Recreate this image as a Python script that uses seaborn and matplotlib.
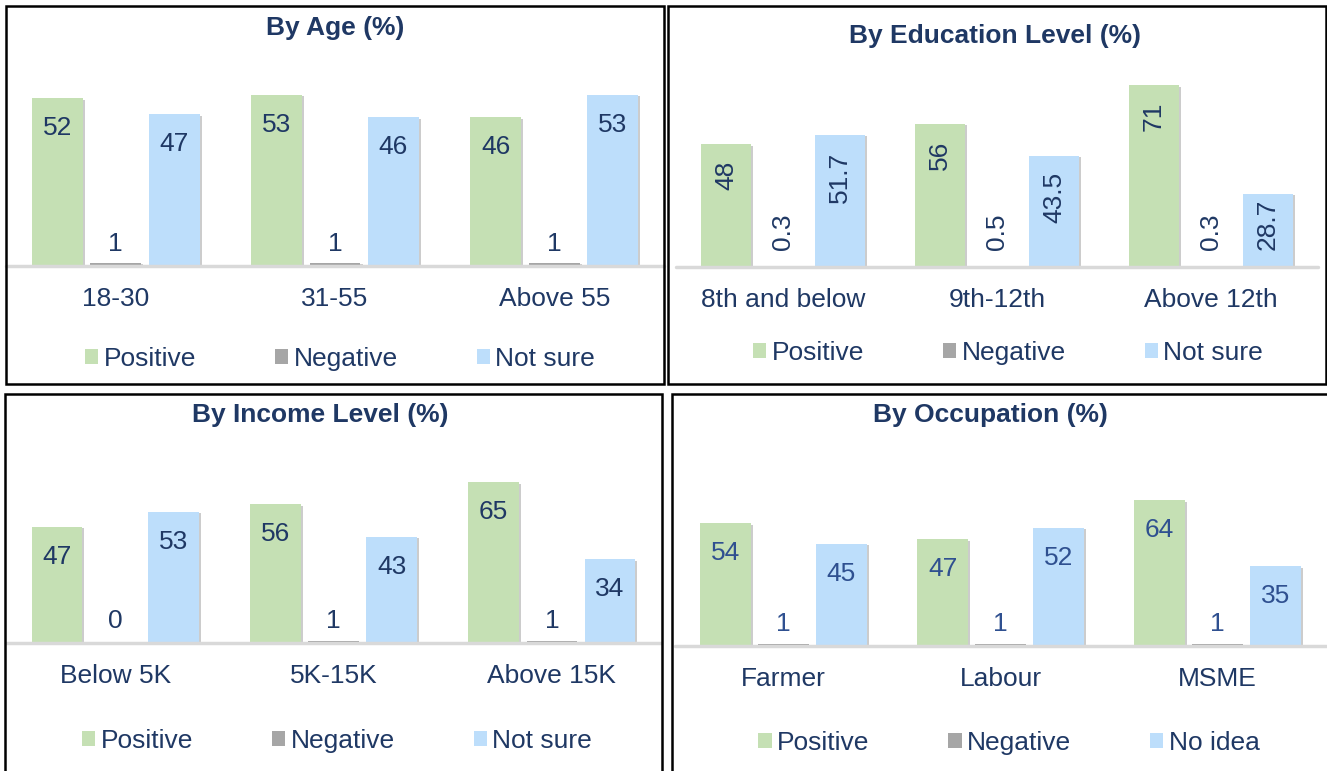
import matplotlib
matplotlib.use("Agg")
import matplotlib.pyplot as plt
from matplotlib.patches import Patch, Rectangle
from matplotlib import patheffects
import pandas as pd
import seaborn as sns

# Data
SERIES = ["Positive", "Negative", "Not sure"]
OCC_SERIES = ["Positive", "Negative", "No idea"]

AGE_GROUPS = ["18-30", "31-55", "Above 55"]
AGE_POSITIVE = [52, 53, 46]
AGE_NEGATIVE = [1, 1, 1]
AGE_NOT_SURE = [47, 46, 53]

EDU_GROUPS = ["8th and below", "9th-12th", "Above 12th"]
EDU_POSITIVE = [48, 56, 71]
EDU_NEGATIVE = [0.3, 0.5, 0.3]
EDU_NOT_SURE = [51.7, 43.5, 28.7]

INC_GROUPS = ["Below 5K", "5K-15K", "Above 15K"]
INC_POSITIVE = [47, 56, 65]
INC_NEGATIVE = [0, 1, 1]
INC_NOT_SURE = [53, 43, 34]

OCC_GROUPS = ["Farmer", "Labour", "MSME"]
OCC_POSITIVE = [54, 47, 64]
OCC_NEGATIVE = [1, 1, 1]
OCC_NO_IDEA = [45, 52, 35]

# Styling
W, H = 1327, 771
NAVY = "#1F3864"
COLORS = ["#C5E0B4", "#A6A6A6", "#BDDEFB"]
FONT_SIZE = 19

sns.set_theme(style="white")
plt.rcParams["font.family"] = ["Liberation Sans", "DejaVu Sans"]


def fig_xy(x, y):
    """Pixel position (from top-left) to figure fraction."""
    return x / W, 1 - y / H


def draw_panel(fig, title, groups, names, values, layout, rotate=False, value_color=NAVY):
    x0, x1, base, top, scale = layout["axes"]
    ax = fig.add_axes([x0 / W, 1 - base / H, (x1 - x0) / W, (base - top) / H])

    rows = [(g, n, v) for n, vals in zip(names, values) for g, v in zip(groups, vals)]
    df = pd.DataFrame(rows, columns=["group", "series", "value"])
    sns.barplot(data=df, x="group", y="value", hue="series", order=groups,
                hue_order=names, palette=dict(zip(names, COLORS)), saturation=1,
                width=0.8, gap=0.13, legend=False, ax=ax, linewidth=0)

    shadow = [patheffects.SimplePatchShadow(offset=(1.5, -1.2), shadow_rgbFace="#808080", alpha=0.4),
              patheffects.Normal()]
    for patch in ax.patches:
        patch.set_path_effects(shadow)

    ax.set_xlim(-0.5, 2.5)
    ax.set_ylim(0, (base - top) / scale)
    ax.axhline(0, color="#D9D9D9", lw=2.5, zorder=5, clip_on=False)
    sns.despine(ax=ax, left=True, bottom=True)
    ax.set_yticks([])
    ax.set_xlabel("")
    ax.set_ylabel("")
    ax.tick_params(axis="x", length=0, pad=15, labelsize=FONT_SIZE, labelcolor=NAVY)
    ax.patch.set_alpha(0)

    # value labels: inside the bar end, pushed up off the baseline when too short
    renderer = fig.canvas.get_renderer()
    base_disp = ax.transData.transform((0, 0))[1]
    pad = 12 if rotate else 13
    floor = 12 if rotate else 7
    for container in ax.containers:
        for bar in container:
            h = bar.get_height()
            xc = bar.get_x() + bar.get_width() / 2
            txt = ax.annotate(f"{h:g}", (xc, h), xytext=(0, -pad), textcoords="offset points",
                              ha="center", va="top", rotation=90 if rotate else 0,
                              fontsize=FONT_SIZE, color=value_color, zorder=6)
            bb = txt.get_window_extent(renderer)
            if bb.y0 < base_disp + floor * fig.dpi / 72:
                txt.xy = (xc, 0)
                txt.set_position((0, floor))
                txt.set_va("bottom")

    fig.text(*fig_xy(*layout["title"]), title, ha="center", va="center",
             fontsize=FONT_SIZE, fontweight="bold", color=NAVY)

    handles = [Patch(facecolor=c, edgecolor="none", label=n) for c, n in zip(COLORS, names)]
    fig.legend(handles=handles, loc="center", bbox_to_anchor=fig_xy(*layout["legend"]),
               ncol=3, frameon=False, fontsize=FONT_SIZE, labelcolor=NAVY,
               handlelength=0.5, handleheight=0.5, handletextpad=0.2, columnspacing=3.0)

    bx0, by0, bx1, by1 = layout["box"]
    fig.add_artist(Rectangle(fig_xy(bx0, by1), (bx1 - bx0) / W, (by1 - by0) / H,
                             transform=fig.transFigure, fill=False, ec="black", lw=1.8))
    return ax


fig = plt.figure(figsize=(W / 100, H / 100), dpi=100)

draw_panel(fig, "By Age (%)", AGE_GROUPS, SERIES,
           [AGE_POSITIVE, AGE_NEGATIVE, AGE_NOT_SURE],
           {"axes": (6, 664, 266, 60, 3.23), "title": (335, 28),
            "legend": (340, 359), "box": (6, 6, 664, 384)})
draw_panel(fig, "By Education Level (%)", EDU_GROUPS, SERIES,
           [EDU_POSITIVE, EDU_NEGATIVE, EDU_NOT_SURE],
           {"axes": (676, 1318, 267, 60, 2.56), "title": (995, 36),
            "legend": (1008, 353), "box": (668, 6, 1326, 384)}, rotate=True)
draw_panel(fig, "By Income Level (%)", INC_GROUPS, SERIES,
           [INC_POSITIVE, INC_NEGATIVE, INC_NOT_SURE],
           {"axes": (6, 661, 643, 440, 2.475), "title": (320, 415),
            "legend": (337, 741), "box": (5, 394, 662, 776)})
draw_panel(fig, "By Occupation (%)", OCC_GROUPS, OCC_SERIES,
           [OCC_POSITIVE, OCC_NEGATIVE, OCC_NO_IDEA],
           {"axes": (675, 1326, 646, 440, 2.275), "title": (990, 415),
            "legend": (1009, 743), "box": (672, 394, 1330, 776)}, value_color="#2F5090")

fig.savefig("out.png", dpi=100, facecolor="white")
